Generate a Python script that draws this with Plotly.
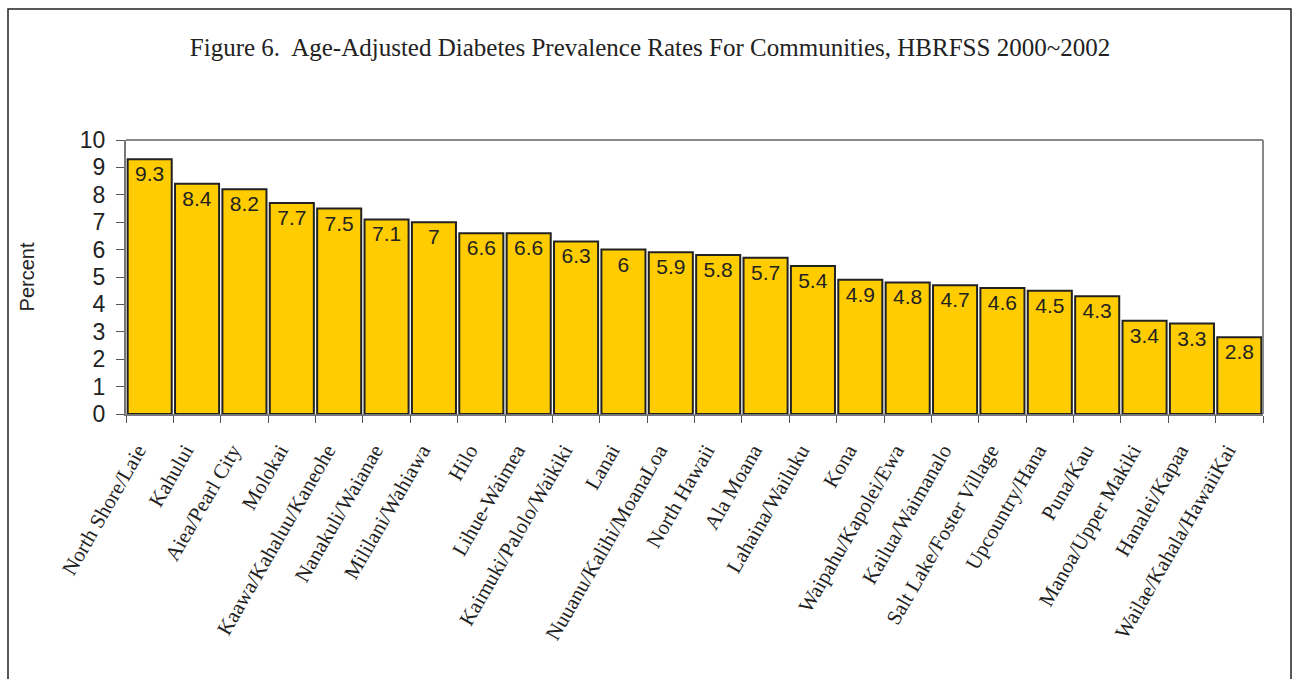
import plotly.graph_objects as go

communities = ["North Shore/Laie", "Kahului", "Aiea/Pearl City", "Molokai",
               "Kaawa/Kahaluu/Kaneohe", "Nanakuli/Waianae", "Mililani/Wahiawa", "Hilo",
               "Lihue-Waimea", "Kaimuki/Palolo/Waikiki", "Lanai", "Nuuanu/Kalihi/MoanaLoa",
               "North Hawaii", "Ala Moana", "Lahaina/Wailuku", "Kona",
               "Waipahu/Kapolei/Ewa", "Kailua/Waimanalo", "Salt Lake/Foster Village",
               "Upcountry/Hana", "Puna/Kau", "Manoa/Upper Makiki", "Hanalei/Kapaa",
               "Wailae/Kahala/HawaiiKai"]
prevalence = [9.3, 8.4, 8.2, 7.7, 7.5, 7.1, 7, 6.6, 6.6, 6.3, 6, 5.9, 5.8, 5.7, 5.4,
              4.9, 4.8, 4.7, 4.6, 4.5, 4.3, 3.4, 3.3, 2.8]
y_ticks = [0, 1, 2, 3, 4, 5, 6, 7, 8, 9, 10]

W, H = 1293, 679
ml, mr, mt, mb = 126, 30, 140, 265
pw, ph = W - ml - mr, H - mt - mb

def px_x(x):
    return (x - ml) / pw

def px_y(y):
    return (H - mb - y) / ph

fig = go.Figure(go.Bar(
    x=communities, y=prevalence,
    marker=dict(color="#FFCC00", line=dict(color="#222222", width=2)),
    texttemplate="%{y}", textposition="inside", insidetextanchor="end",
    textfont=dict(family="Arial, Liberation Sans", size=21, color="#222222"),
    textangle=0, cliponaxis=False,
))

fig.update_layout(
    width=W, height=H,
    margin=dict(l=ml, r=mr, t=mt, b=mb),
    paper_bgcolor="white", plot_bgcolor="white",
    bargap=0.07,
    showlegend=False,
    title=dict(
        text="Figure 6.  Age-Adjusted Diabetes Prevalence Rates For Communities, HBRFSS 2000~2002",
        font=dict(family="Liberation Serif, Times New Roman", size=25, color="#222222"),
        x=px_x(650), xref="paper", xanchor="center", y=1 - 47 / H, yanchor="middle",
    ),
    xaxis=dict(
        type="category", tickangle=-60, tickson="boundaries",
        ticks="outside", ticklen=7, tickcolor="#555555",
        ticklabelstandoff=14, ticklabelshift=-12,
        showline=True, linecolor="#777777", linewidth=2, mirror=False,
        tickfont=dict(family="Liberation Serif, Times New Roman", size=21, color="#222222"),
        showgrid=False,
    ),
    yaxis=dict(
        range=[0, 10], tickvals=y_ticks, ticks="outside", ticklen=8, tickcolor="#555555",
        ticklabelstandoff=6,
        showline=True, linecolor="#777777", linewidth=2, mirror=False,
        tickfont=dict(family="Arial, Liberation Sans", size=23, color="#222222"),
        showgrid=False, zeroline=False,
        title=dict(text="Percent", standoff=40,
                   font=dict(family="Arial, Liberation Sans", size=20, color="#222222")),
    ),
    shapes=[
        dict(type="line", xref="paper", yref="paper", x0=0, x1=1, y0=1, y1=1,
             line=dict(color="#888888", width=2)),
        dict(type="line", xref="paper", yref="paper", x0=1, x1=1, y0=0, y1=1,
             line=dict(color="#888888", width=2)),
        dict(type="rect", xref="paper", yref="paper",
             x0=px_x(8), x1=px_x(1291), y0=px_y(9), y1=px_y(700),
             line=dict(color="#222222", width=1.5), layer="above"),
    ],
)

fig.write_html("out.html")
